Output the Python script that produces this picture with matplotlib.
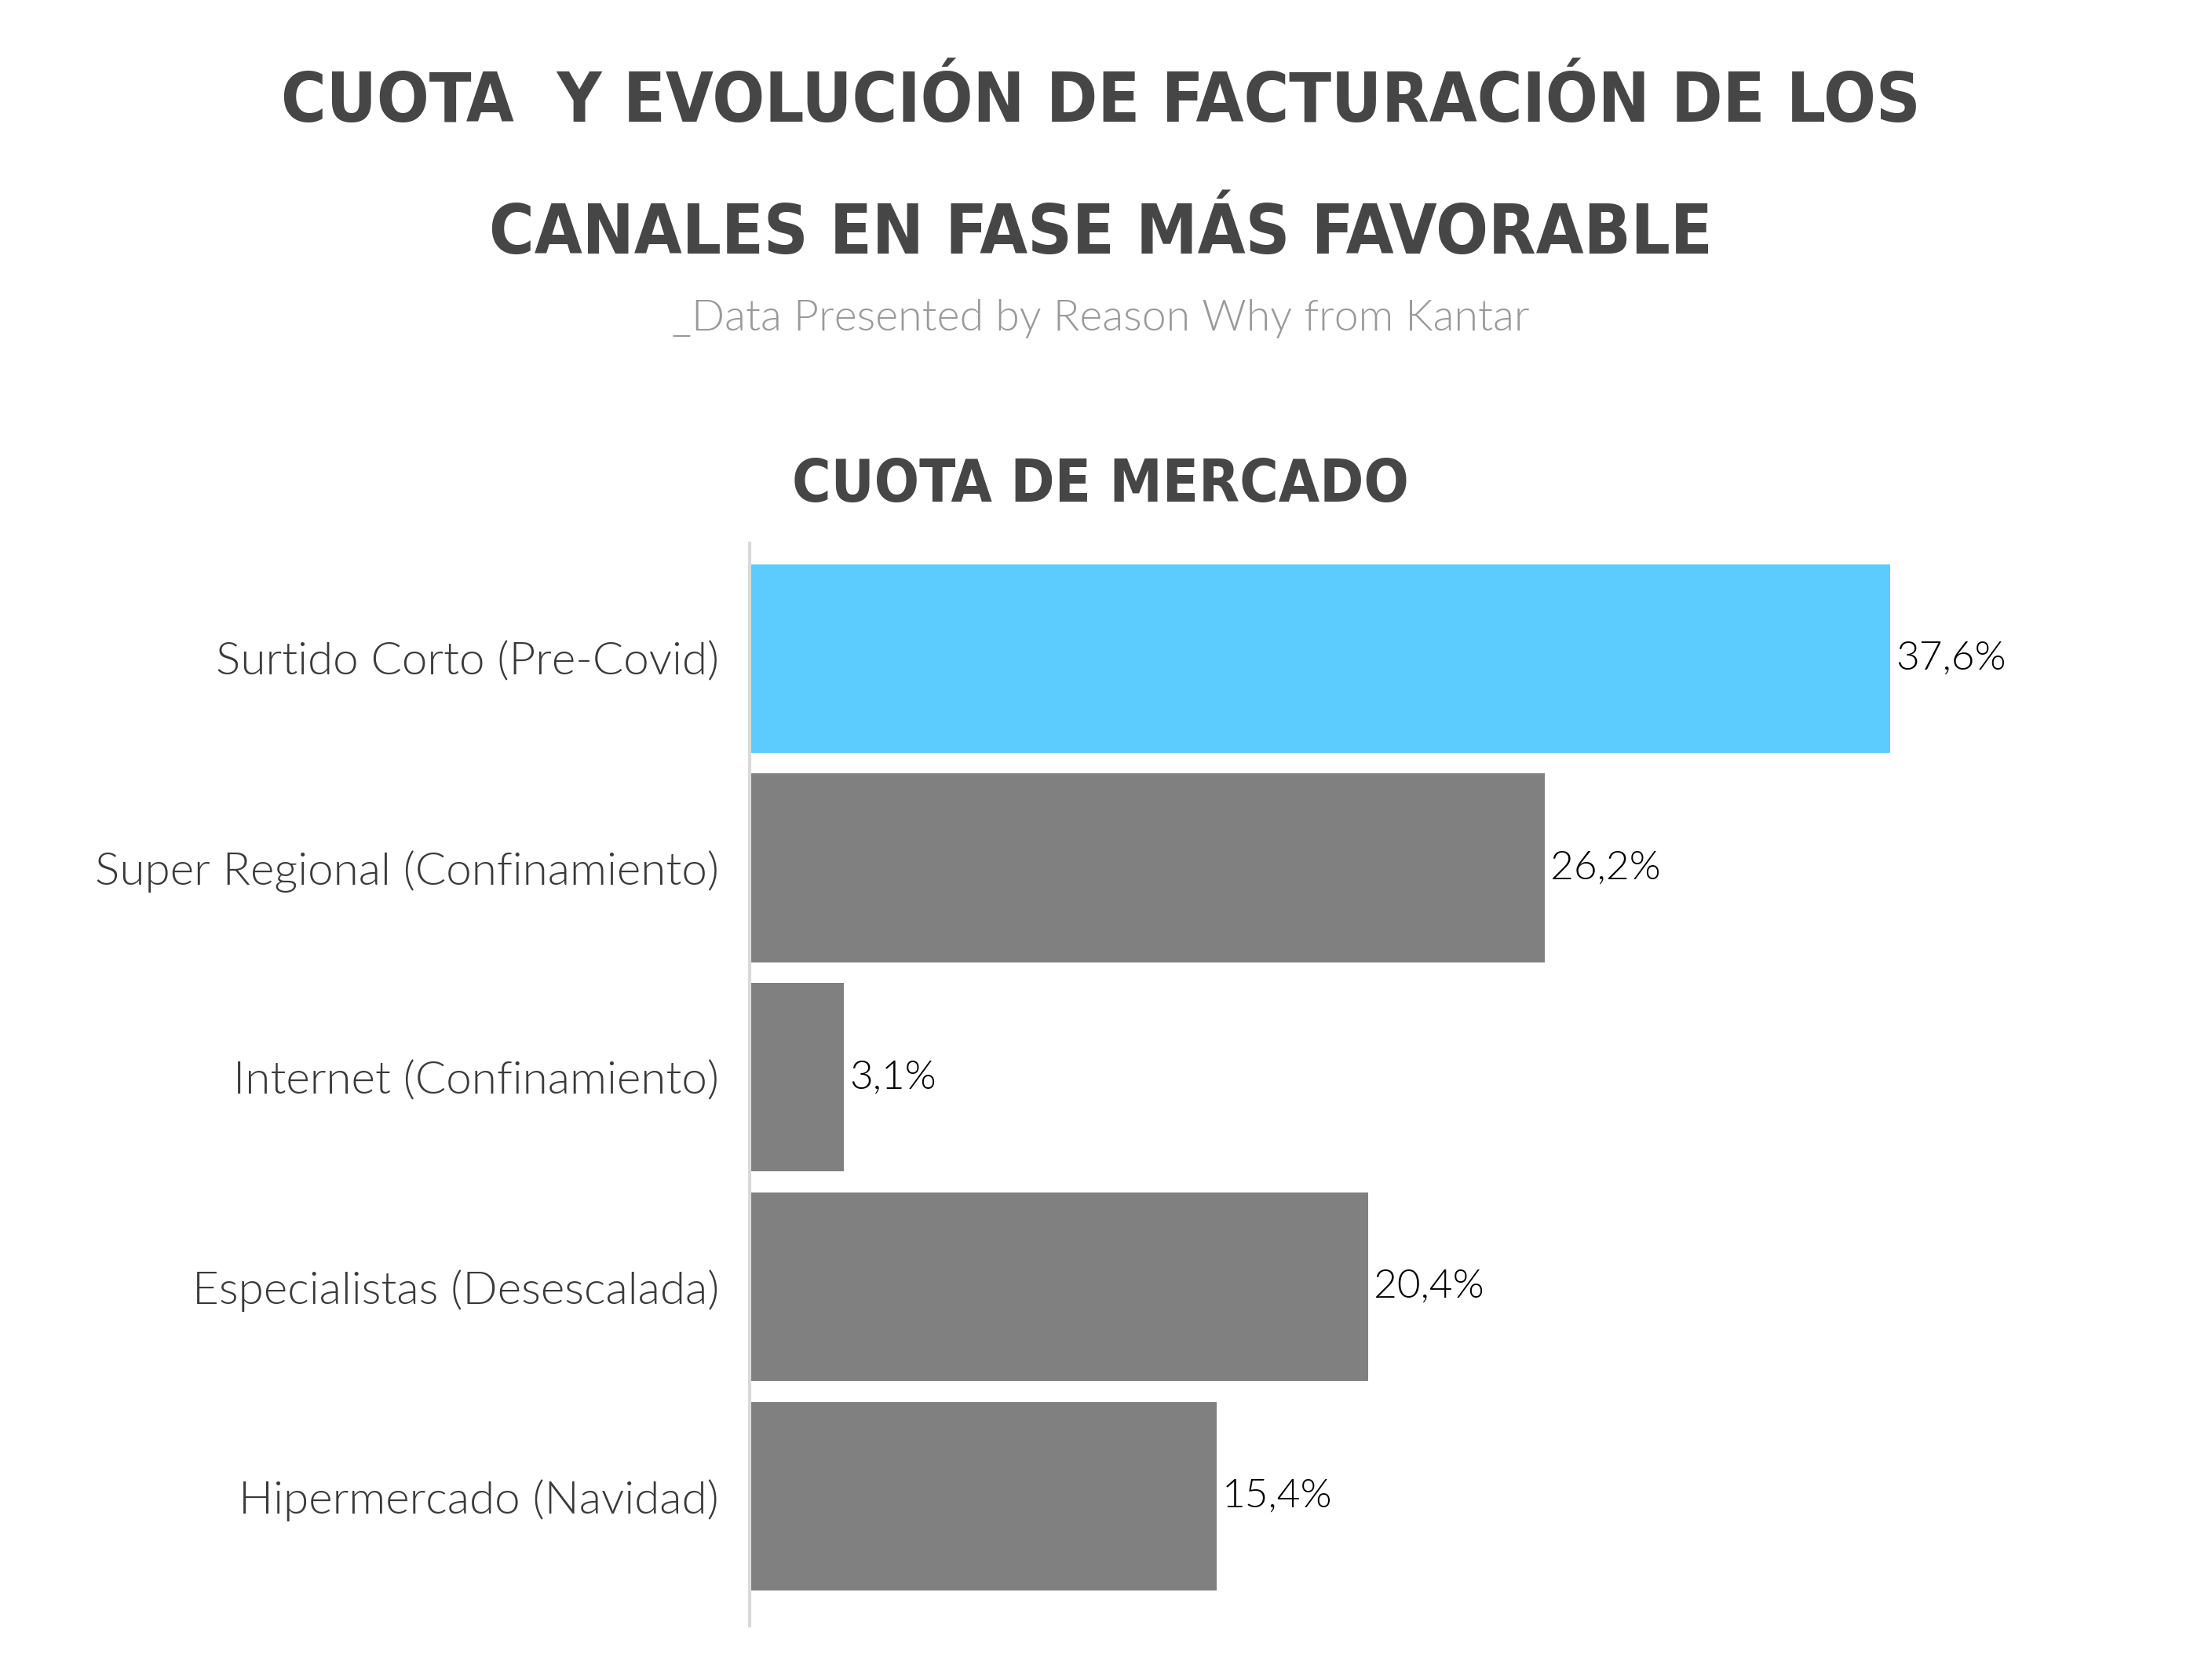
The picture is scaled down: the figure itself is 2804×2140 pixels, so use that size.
import matplotlib
matplotlib.use("Agg")
import matplotlib.pyplot as plt
from matplotlib import font_manager as fm

categories = [
    "Surtido Corto (Pre-Covid)",
    "Super Regional (Confinamiento)",
    "Internet (Confinamiento)",
    "Especialistas (Desescalada)",
    "Hipermercado (Navidad)",
]
cuota = [37.6, 26.2, 3.1, 20.4, 15.4]
bar_colors = ["#5bccfd", "#808080", "#808080", "#808080", "#808080"]

title_lines = ["CUOTA  Y EVOLUCIÓN DE FACTURACIÓN DE LOS",
               "CANALES EN FASE MÁS FAVORABLE"]
subtitle = "_Data Presented by Reason Why from Kantar"
section_title = "CUOTA DE MERCADO"


def condensed_bold():
    # look for the narrowest bold face that is installed
    order = ["ultra-condensed", "extra-condensed", "condensed", "semi-condensed"]
    found = []
    for f in fm.fontManager.ttflist:
        w = f.weight if isinstance(f.weight, int) else 700 if "bold" in str(f.weight) else 400
        if f.stretch in order and w >= 600:
            found.append((order.index(f.stretch), abs(w - 700), f.fname))
    if found:
        found.sort()
        return fm.FontProperties(fname=found[0][2])
    return fm.FontProperties(family="DejaVu Sans", weight="bold")


def lato_light(size):
    for f in fm.fontManager.ttflist:
        if f.name == "Lato" and f.fname.endswith("Lato-Light.ttf"):
            return fm.FontProperties(fname=f.fname, size=size)
    return fm.FontProperties(family="Lato", size=size)


head_fp = condensed_bold()
body_font = ["Lato", "DejaVu Sans"]

fig = plt.figure(figsize=(28.04, 21.40), dpi=100)
fig.patch.set_facecolor("white")

t1 = fig.text(0.5, 0.9276, title_lines[0], ha="center", va="baseline",
              fontproperties=head_fp, fontsize=80, color="#464646")
t2 = fig.text(0.5, 0.8491, title_lines[1], ha="center", va="baseline",
              fontproperties=head_fp, fontsize=80, color="#464646")
fig.text(0.5, 0.8033, subtitle, ha="center", va="baseline",
         fontproperties=lato_light(40), color="#999999")
t3 = fig.text(0.5, 0.7014, section_title, ha="center", va="baseline",
              fontproperties=head_fp, fontsize=70, color="#464646")

# fit heading widths to the reference layout
renderer = fig.canvas.get_renderer()
k = 2090 / t1.get_window_extent(renderer).width
t1.set_fontsize(80 * k)
t2.set_fontsize(80 * k)
t3.set_fontsize(70 * 787 / t3.get_window_extent(renderer).width)

ax = fig.add_axes([0.3406, 0.0322, 0.6223, 0.6444])
y = list(range(len(categories)))
ax.barh(y, cuota, height=0.9, color=bar_colors)

for yi, v in zip(y, cuota):
    ax.annotate(f"{v:.1f}".replace(".", ",") + "%", (v, yi),
                xytext=(5, 0), textcoords="offset points",
                ha="left", va="center", fontproperties=lato_light(37),
                color="black")

ax.set_xlim(0, 45.15)
ax.set_ylim(4.62, -0.55)
ax.set_yticks(y)
ax.set_yticklabels(categories, fontproperties=lato_light(42), color="#3a3a3a")
ax.tick_params(axis="y", length=0, pad=28)
ax.set_xticks([])

for s in ["top", "right", "bottom"]:
    ax.spines[s].set_visible(False)
ax.spines["left"].set_color("#d9d9d9")
ax.spines["left"].set_linewidth(3)

plt.savefig("out.png", dpi=100, facecolor="white")
